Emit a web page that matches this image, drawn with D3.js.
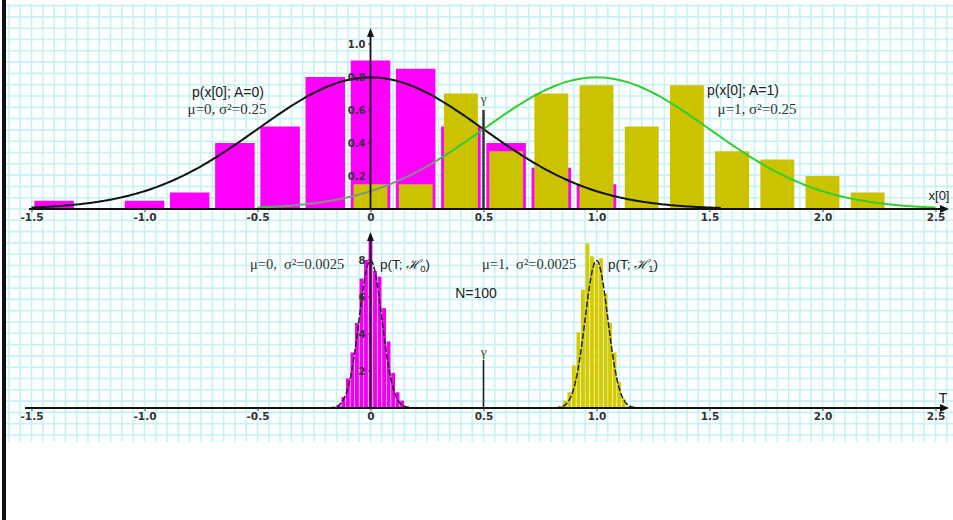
<!DOCTYPE html>
<html>
<head>
<meta charset="utf-8">
<script src="https://cdn.jsdelivr.net/npm/d3@7"></script>
<style>
  html, body { margin: 0; padding: 0; background: #fff; }
  svg { display: block; }
</style>
</head>
<body>
<svg id="chart" width="953" height="520"></svg>
<script>
// ---- tick values shared by both panels ----
const xTickValues = [-1.5, -1.0, -0.5, 0, 0.5, 1.0, 1.5, 2.0, 2.5];
const topYTickValues = [0.2, 0.4, 0.6, 0.8, 1.0];
const bottomYTickValues = [2, 4, 6, 8];

// ---- single-sample histograms of x[0] ----
const h0SampleCenters = [-1.4, -1.0, -0.8, -0.6, -0.4, -0.2, 0, 0.2, 0.4, 0.6, 0.8, 1.0];
const h0SampleHeights = [0.05, 0.05, 0.1, 0.4, 0.5, 0.8, 0.9, 0.85, 0.5, 0.4, 0.25, 0.15];
const h1SampleCenters = [0, 0.2, 0.4, 0.6, 0.8, 1.0, 1.2, 1.4, 1.6, 1.8, 2.0, 2.2];
const h1SampleHeights = [0.15, 0.15, 0.7, 0.35, 0.7, 0.75, 0.5, 0.75, 0.35, 0.3, 0.2, 0.1];

// ---- histograms of the test statistic T (sample mean, N = 100) ----
const h0StatCenters = [-0.16, -0.14, -0.12, -0.10, -0.08, -0.06, -0.04, -0.02, 0,
                        0.02, 0.04, 0.06, 0.08, 0.10, 0.12, 0.14, 0.16];
const h0StatHeights = [0.05, 0.15, 0.6, 1.6, 3.0, 4.6, 7.0, 8.0, 9.2,
                       7.4, 7.1, 5.4, 3.6, 1.9, 0.85, 0.4, 0.1];
const h1StatCenters = [0.84, 0.86, 0.88, 0.90, 0.92, 0.94, 0.96, 0.98, 1.00,
                       1.02, 1.04, 1.06, 1.08, 1.10, 1.12, 1.14];
const h1StatHeights = [0.1, 0.4, 0.85, 2.3, 4.1, 6.4, 8.9, 8.2, 7.8,
                       8.1, 6.2, 4.6, 3.0, 1.4, 0.5, 0.1];

// ---- model parameters ----
const meanH0 = 0, meanH1 = 1;
const sampleVariance = 0.25, statVariance = 0.0025;
const threshold = 0.5;

// ---- layout ----
const W = 953, H = 520;
const gridTop = 4, gridBottom = 442, gridLeft = 6, gridRight = 953;
const topBase = 209, bottomBase = 408;

const svg = d3.select("#chart");

const x = d3.scaleLinear().domain([-1.5, 2.5]).range([31.5, 935.5]);
const yTop = d3.scaleLinear().domain([0, 1]).range([topBase, 44]);
const yBot = d3.scaleLinear().domain([0, 8]).range([bottomBase, 260]);

const gauss = (mu, v) => t => Math.exp(-(t - mu) * (t - mu) / (2 * v)) / Math.sqrt(2 * Math.PI * v);

// ---- graph-paper background ----
const grid = svg.append("g");
grid.append("rect").attr("x", gridLeft).attr("y", gridTop)
  .attr("width", gridRight - gridLeft).attr("height", gridBottom - gridTop).attr("fill", "#fcffff");
const step = x(0.05) - x(0);
const vLines = [];
for (let v = x(-1.5) - Math.floor((x(-1.5) - gridLeft) / step) * step; v <= gridRight; v += step) vLines.push(v);
const hLines = [];
for (let v = topBase - Math.floor((topBase - gridTop) / step) * step; v <= gridBottom; v += step) hLines.push(v);
grid.selectAll(".gv").data(vLines).join("line")
  .attr("x1", d => d).attr("x2", d => d).attr("y1", gridTop).attr("y2", gridBottom)
  .attr("stroke", "#c9f1f4").attr("stroke-width", 1.6);
grid.selectAll(".gh").data(hLines).join("line")
  .attr("y1", d => d).attr("y2", d => d).attr("x1", gridLeft).attr("x2", gridRight)
  .attr("stroke", "#c9f1f4").attr("stroke-width", 1.6);

// left frame line
svg.append("rect").attr("x", 2).attr("y", 0).attr("width", 4).attr("height", H).attr("fill", "#111");

// ================= upper panel: p(x[0]; A) =================
const upper = svg.append("g");
const magentaW = 0.175, yellowW = 0.15;

upper.selectAll(".m").data(h0SampleCenters.map((c, i) => ({ c, h: h0SampleHeights[i] })))
  .join("rect")
  .attr("x", d => x(d.c - magentaW / 2)).attr("width", x(magentaW) - x(0))
  .attr("y", d => yTop(d.h)).attr("height", d => topBase - yTop(d.h))
  .attr("fill", "#ff00ff");

upper.selectAll(".y").data(h1SampleCenters.map((c, i) => ({ c, h: h1SampleHeights[i] })))
  .join("rect")
  .attr("x", d => x(d.c - yellowW / 2)).attr("width", x(yellowW) - x(0))
  .attr("y", d => yTop(d.h)).attr("height", d => topBase - yTop(d.h))
  .attr("fill", "#cbc300");

// density curves
const pdf0 = gauss(meanH0, sampleVariance), pdf1 = gauss(meanH1, sampleVariance);
const line = (sx, sy, f) => d3.line().x(t => sx(t)).y(t => sy(f(t))).curve(d3.curveBasis);

const defs = svg.append("defs");
const grad = defs.append("linearGradient").attr("id", "greenFade")
  .attr("gradientUnits", "userSpaceOnUse").attr("x1", x(-0.5)).attr("x2", x(2.5)).attr("y1", 0).attr("y2", 0);
grad.append("stop").attr("offset", "0").attr("stop-color", "#33cc33");
grad.append("stop").attr("offset", "0.06").attr("stop-color", "#7a9a7a");
grad.append("stop").attr("offset", "0.25").attr("stop-color", "#8a8a8a");
grad.append("stop").attr("offset", "0.29").attr("stop-color", "#33cc33");
grad.append("stop").attr("offset", "1").attr("stop-color", "#33cc33");

upper.append("path").datum(d3.range(-1.5, 1.56, 0.01))
  .attr("d", line(x, yTop, pdf0)).attr("fill", "none")
  .attr("stroke", "#111").attr("stroke-width", 2);
upper.append("path").datum(d3.range(-0.5, 2.501, 0.01))
  .attr("d", line(x, yTop, pdf1)).attr("fill", "none")
  .attr("stroke", "url(#greenFade)").attr("stroke-width", 2);

// threshold
upper.append("line").attr("x1", x(threshold)).attr("x2", x(threshold))
  .attr("y1", yTop(0.6)).attr("y2", topBase).attr("stroke", "#333").attr("stroke-width", 2.5);
upper.append("text").attr("x", x(threshold)).attr("y", yTop(0.6) - 7).attr("text-anchor", "middle")
  .attr("font-family", "Liberation Serif").attr("font-size", 13).attr("fill", "#444").text("γ");

// ---- axes helpers ----
const tickFmt = d => d === 0 ? "0" : d.toFixed(1);

function xAxis(g, base) {
  const ax = d3.axisBottom(x).tickValues(xTickValues).tickFormat(tickFmt).tickSize(3).tickPadding(2);
  g.attr("transform", `translate(0,${base})`).call(ax);
  g.select(".domain").remove();
  g.selectAll(".tick line").attr("stroke", "#444");
  g.selectAll(".tick text").attr("font-family", "DejaVu Sans").attr("font-weight", "bold")
    .attr("font-size", 10.5).attr("fill", "#333");
}

function arrowRight(g, x1, x2, y) {
  g.append("line").attr("x1", x1).attr("x2", x2 - 5).attr("y1", y).attr("y2", y)
    .attr("stroke", "#111").attr("stroke-width", 2.2);
  g.append("path").attr("d", `M${x2},${y} L${x2 - 9},${y - 4} L${x2 - 9},${y + 4} Z`).attr("fill", "#111");
}
function arrowUp(g, xx, y1, y2) {
  g.append("line").attr("x1", xx).attr("x2", xx).attr("y1", y1).attr("y2", y2 + 5)
    .attr("stroke", "#111").attr("stroke-width", 1.8);
  g.append("path").attr("d", `M${xx},${y2} L${xx - 3.5},${y2 + 9} L${xx + 3.5},${y2 + 9} Z`).attr("fill", "#111");
}
function yLabels(g, scale, vals, fmt) {
  g.selectAll(".yl").data(vals).join("text")
    .attr("x", x(0) - 5).attr("y", d => scale(d)).attr("dy", "0.35em").attr("text-anchor", "end")
    .attr("font-family", "DejaVu Sans").attr("font-weight", "bold").attr("font-size", 10)
    .attr("fill", "#333").text(fmt);
  g.selectAll(".yt").data(vals).join("line")
    .attr("x1", x(0) - 2.5).attr("x2", x(0)).attr("y1", d => scale(d)).attr("y2", d => scale(d))
    .attr("stroke", "#333").attr("stroke-width", 1);
}

const topAxisG = svg.append("g");
arrowRight(topAxisG, 29, 949, topBase);
arrowUp(topAxisG, x(0), topBase, 28);
xAxis(svg.append("g"), topBase);
yLabels(svg.append("g"), yTop, topYTickValues, d => d.toFixed(1));

const lbl = svg.append("g").attr("fill", "#222");
lbl.append("text").attr("x", 228).attr("y", 97).attr("text-anchor", "middle")
  .attr("font-family", "Liberation Sans").attr("font-size", 14).text("p(x[0]; A=0)");
lbl.append("text").attr("x", 227).attr("y", 114).attr("text-anchor", "middle")
  .attr("font-family", "Liberation Serif").attr("font-size", 15).attr("fill", "#333").text("μ=0, σ²=0.25");
lbl.append("text").attr("x", 743).attr("y", 95).attr("text-anchor", "middle")
  .attr("font-family", "Liberation Sans").attr("font-size", 14).text("p(x[0]; A=1)");
lbl.append("text").attr("x", 757).attr("y", 114).attr("text-anchor", "middle")
  .attr("font-family", "Liberation Serif").attr("font-size", 15).attr("fill", "#333").text("μ=1, σ²=0.25");
lbl.append("text").attr("x", 939).attr("y", 200).attr("text-anchor", "middle")
  .attr("font-family", "Liberation Sans").attr("font-size", 13).text("x[0]");

// ================= lower panel: p(T; H) =================
const lower = svg.append("g");
const statW = 0.017;

lower.selectAll(".bm").data(h0StatCenters.map((c, i) => ({ c, h: h0StatHeights[i] })))
  .join("rect")
  .attr("x", d => x(d.c - statW / 2)).attr("width", x(statW) - x(0))
  .attr("y", d => yBot(d.h)).attr("height", d => bottomBase - yBot(d.h))
  .attr("fill", "#f000f0");
lower.selectAll(".by").data(h1StatCenters.map((c, i) => ({ c, h: h1StatHeights[i] })))
  .join("rect")
  .attr("x", d => x(d.c - statW / 2)).attr("width", x(statW) - x(0))
  .attr("y", d => yBot(d.h)).attr("height", d => bottomBase - yBot(d.h))
  .attr("fill", "#d4cc00");

const pdfT0 = gauss(meanH0, statVariance), pdfT1 = gauss(meanH1, statVariance);
lower.append("path").datum(d3.range(-0.22, 0.2201, 0.002))
  .attr("d", line(x, yBot, pdfT0)).attr("fill", "none")
  .attr("stroke", "#222").attr("stroke-width", 1.5).attr("stroke-dasharray", "6,2");
lower.append("path").datum(d3.range(0.78, 1.2201, 0.002))
  .attr("d", line(x, yBot, pdfT1)).attr("fill", "none")
  .attr("stroke", "#222").attr("stroke-width", 1.5).attr("stroke-dasharray", "6,2");

lower.append("line").attr("x1", x(threshold)).attr("x2", x(threshold))
  .attr("y1", yBot(2.6)).attr("y2", bottomBase).attr("stroke", "#222").attr("stroke-width", 1.6);
lower.append("text").attr("x", x(threshold)).attr("y", yBot(2.6) - 4).attr("text-anchor", "middle")
  .attr("font-family", "Liberation Serif").attr("font-size", 13).attr("fill", "#444").text("γ");

const botAxisG = svg.append("g");
arrowRight(botAxisG, 25, 949, bottomBase);
arrowUp(botAxisG, x(0), bottomBase, 232);
xAxis(svg.append("g"), bottomBase);
yLabels(svg.append("g"), yBot, bottomYTickValues, d => d);

const lbl2 = svg.append("g").attr("fill", "#222");
lbl2.append("text").attr("x", 250).attr("y", 269)
  .attr("font-family", "Liberation Serif").attr("font-size", 14.5).attr("fill", "#333")
  .text("μ=0,\u00a0 σ²=0.0025");
lbl2.append("text").attr("x", 482).attr("y", 269)
  .attr("font-family", "Liberation Serif").attr("font-size", 14.5).attr("fill", "#333")
  .text("μ=1,\u00a0 σ²=0.0025");

function hypLabel(xx, idx) {
  const t = lbl2.append("text").attr("x", xx).attr("y", 269)
    .attr("font-family", "Liberation Sans").attr("font-size", 13.5);
  t.append("tspan").text("p(T; ");
  t.append("tspan").attr("font-family", "DejaVu Serif").attr("font-style", "italic").text("ℋ");
  t.append("tspan").attr("font-size", 9.5).attr("dy", 3).text(idx);
  t.append("tspan").attr("dy", -3).text(")");
}
hypLabel(380, "0");
hypLabel(608, "1");

lbl2.append("text").attr("x", 476).attr("y", 298).attr("text-anchor", "middle")
  .attr("font-family", "Liberation Sans").attr("font-size", 14).text("N=100");
lbl2.append("text").attr("x", 943).attr("y", 403).attr("text-anchor", "middle")
  .attr("font-family", "Liberation Sans").attr("font-size", 14).text("T");
</script>
</body>
</html>
